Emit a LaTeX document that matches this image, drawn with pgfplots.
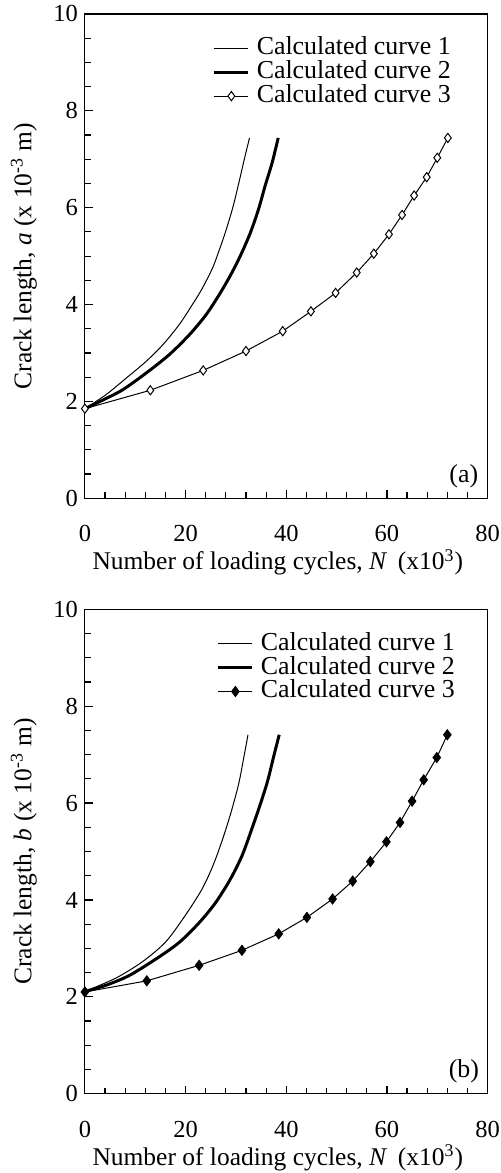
\documentclass[border=0pt]{standalone}
\usepackage{fontspec}
\setmainfont{Liberation Serif}
\usepackage{pgfplots}
\pgfplotsset{compat=1.18}

\pgfplotsset{
  crackaxis/.style={
    scale only axis, width=202.35pt, height=243.35pt,
    xmin=0, xmax=80, ymin=0, ymax=10,
    xtick={0,20,...,80}, ytick={0,2,...,10},
    minor x tick num=4, minor y tick num=3,
    xtick pos=bottom, ytick pos=left, tick align=inside,
    major tick length=4pt, minor tick length=3pt,
    axis line style={line width=0.6pt},
    every tick/.style={black, line width=0.6pt},
    /pgf/number format/assume math mode=true,
    tick label style={font=\fontsize{12.3}{14}\selectfont},
    xticklabel style={inner sep=0pt, yshift=-13.5pt},
    every axis x label/.style={at={(axis description cs:0.479,-0.132)}, anchor=center,
      inner sep=0pt, font=\fontsize{12.8}{15}\selectfont},
    every axis y label/.style={at={(axis description cs:-0.1515,0.5)}, rotate=90, anchor=center,
      inner sep=0pt, font=\fontsize{12.8}{15}\selectfont},
    legend style={draw=none, fill=none, inner sep=0pt, outer sep=0pt,
      font=\fontsize{13}{15}\selectfont, anchor=north east, cells={anchor=west},
      row sep=0pt, column sep=3pt,
      nodes={inner sep=0.5pt, text height=8.7pt, text depth=2.3pt}},
  },
  c1/.style={black, line width=0.5pt, smooth, no markers},
  c2/.style={black, line width=1.5pt, smooth, no markers},
}

\begin{document}
\begin{tikzpicture}
  % page = reference frame, axis (a) corner at origin, 1px = 0.5pt
  \useasboundingbox (-42.65pt,-339pt) rectangle (208.85pt,250.35pt);

  % (a)
  \begin{axis}[crackaxis, at={(0pt,0pt)}, anchor=south west,
      xlabel={Number of loading cycles, \textit{N} \,(x10\textsuperscript{3})},
      ylabel={Crack length, \textit{a} (x 10\textsuperscript{-3} m)},
      legend style={at={(axis description cs:0.911,0.9536)}}]

    \addplot[c1] coordinates {(0,1.85) (4.2,2.14) (8.2,2.48) (12.1,2.82) (15.4,3.16) (18.7,3.58) (21.3,3.99) (23.3,4.33) (25.3,4.74) (26.3,5.01) (27.9,5.49) (29.4,6.01) (30.6,6.52) (31.6,6.97) (32.7,7.44)};

    \addplot[c2] coordinates {(0,1.85) (3.6,2.03) (7.5,2.24) (12.1,2.58) (16.7,2.96) (20.7,3.37) (24.0,3.78) (26.6,4.19) (28.9,4.60) (30.9,5.01) (32.9,5.49) (34.5,5.97) (35.8,6.45) (37.2,6.93) (38.4,7.44)};

    \addplot[black, line width=0.5pt, mark=diamond*, mark size=2.3pt,
      mark options={fill=white, line width=0.5pt}] coordinates {(0,1.85) (13.0,2.23) (23.5,2.64) (32.0,3.04) (39.3,3.45) (44.9,3.86) (49.8,4.24) (54.0,4.66) (57.4,5.05) (60.4,5.45) (63.0,5.85) (65.4,6.25) (67.9,6.63) (70.0,7.03) (72.1,7.44)};

    \legend{Calculated curve 1, Calculated curve 2, Calculated curve 3}
    \node[font=\fontsize{13}{15}\selectfont] at (axis description cs:0.941,0.046) {(a)};
  \end{axis}

  % (b)
  \begin{axis}[crackaxis, at={(0pt,-299.15pt)}, anchor=south west,
      xlabel={Number of loading cycles, \textit{N} \,(x10\textsuperscript{3})},
      ylabel={Crack length, \textit{b} (x 10\textsuperscript{-3} m)},
      legend style={at={(axis description cs:0.921,0.9536)}}]

    \addplot[c1] coordinates {(0,2.11) (6.2,2.39) (11.5,2.73) (16.1,3.14) (20.0,3.69) (23.3,4.23) (25.6,4.75) (27.6,5.33) (29.2,5.87) (30.6,6.42) (31.6,6.96) (32.4,7.41)};

    \addplot[c2] coordinates {(0,2.11) (4.2,2.24) (8.8,2.44) (14.1,2.78) (18.7,3.12) (22.7,3.53) (26.0,3.95) (28.9,4.43) (31.2,4.91) (32.9,5.39) (34.5,5.87) (36.2,6.42) (37.5,6.96) (38.6,7.41)};

    \addplot[black, line width=0.5pt, mark=diamond*, mark size=2.5pt,
      mark options={fill=black}] coordinates {(0,2.10) (12.3,2.33) (22.7,2.65) (31.2,2.96) (38.5,3.30) (44.1,3.64) (49.2,4.02) (53.2,4.39) (56.7,4.79) (59.9,5.20) (62.6,5.60) (65.0,6.04) (67.3,6.48) (69.9,6.94) (72.0,7.41)};

    \legend{Calculated curve 1, Calculated curve 2, Calculated curve 3}
    \node[font=\fontsize{13}{15}\selectfont] at (axis description cs:0.941,0.046) {(b)};
  \end{axis}
\end{tikzpicture}
\end{document}
